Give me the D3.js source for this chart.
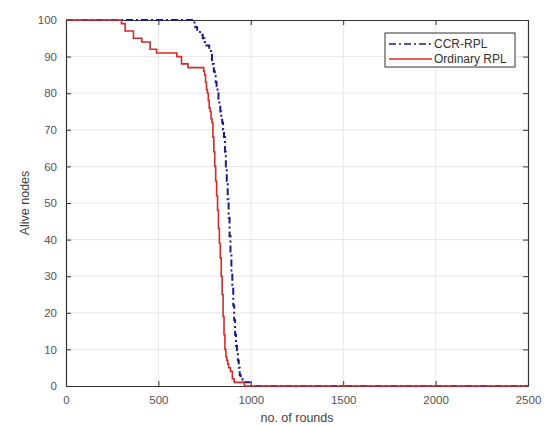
<!DOCTYPE html>
<html>
<head>
<meta charset="utf-8">
<script src="https://cdn.jsdelivr.net/npm/d3@7"></script>
<style>
  body { margin: 0; background: #fff; }
  text { font-family: "Liberation Sans", Arial, sans-serif; }
</style>
</head>
<body>
<div id="chart"></div>
<script>
// data
const ccrRounds = [0, 689, 695, 700, 710, 725, 740, 750, 760, 775, 785, 790, 795, 800, 805, 810, 815, 820, 825, 830, 835, 840, 845, 850, 855, 860, 865, 870, 875, 880, 885, 890, 895, 900, 905, 910, 915, 920, 925, 930, 935, 940, 945, 955, 1000, 2500];
const ccrAlive = [100, 100, 99, 98, 97, 96, 95, 94, 93, 92, 91, 89, 88, 86, 85, 83, 82, 80, 78, 77, 75, 73, 72, 70, 68, 64, 60, 56, 51, 46, 41, 36, 31, 27, 22, 18, 14, 11, 9, 7, 5, 3, 2, 1, 0, 0];

const ordRounds = [0, 300, 320, 365, 410, 455, 490, 600, 625, 660, 740, 745, 750, 755, 760, 765, 770, 775, 780, 785, 790, 795, 800, 805, 810, 815, 820, 825, 830, 835, 840, 845, 850, 855, 860, 865, 870, 875, 880, 890, 900, 910, 965, 2500];
const ordAlive = [100, 99, 97, 95, 94, 92, 91, 90, 88, 87, 87, 86, 85, 83, 81, 80, 78, 76, 75, 73, 72, 68, 64, 60, 56, 52, 48, 43, 39, 35, 30, 25, 19, 14, 10, 8, 7, 6, 5, 4, 2, 1, 0, 0];

const xTicks = [0, 500, 1000, 1500, 2000, 2500];
const yTicks = [0, 10, 20, 30, 40, 50, 60, 70, 80, 90, 100];

const seriesNames = ["CCR-RPL", "Ordinary RPL"];

// set the dimensions and margins of the graph
const margin = { top: 20, right: 18, bottom: 40, left: 66 },
  width = 546 - margin.left - margin.right,
  height = 426 - margin.top - margin.bottom;

const svg = d3
  .select("#chart")
  .append("svg")
  .attr("width", width + margin.left + margin.right)
  .attr("height", height + margin.top + margin.bottom)
  .append("g")
  .attr("transform", `translate(${margin.left},${margin.top})`);

const x = d3.scaleLinear().domain([0, 2500]).range([0, width]);
const y = d3.scaleLinear().domain([0, 100]).range([height, 0]);

// grid
svg
  .append("g")
  .selectAll("line")
  .data(xTicks.slice(1, -1))
  .join("line")
  .attr("x1", (d) => x(d))
  .attr("x2", (d) => x(d))
  .attr("y1", 0)
  .attr("y2", height)
  .attr("stroke", "#e6e6e6");
svg
  .append("g")
  .selectAll("line")
  .data(yTicks.slice(1, -1))
  .join("line")
  .attr("x1", 0)
  .attr("x2", width)
  .attr("y1", (d) => y(d))
  .attr("y2", (d) => y(d))
  .attr("stroke", "#e6e6e6");

// axes, ticks pointing inward
const fmt = d3.format("d");
svg
  .append("g")
  .attr("transform", `translate(0, ${height})`)
  .call(d3.axisBottom(x).tickValues(xTicks).tickFormat(fmt).tickSizeInner(-5).tickSizeOuter(0).tickPadding(10));
svg
  .append("g")
  .call(d3.axisLeft(y).tickValues(yTicks).tickFormat(fmt).tickSizeInner(-5).tickSizeOuter(0).tickPadding(9));
svg
  .append("g")
  .call(d3.axisTop(x).tickValues(xTicks).tickSizeInner(-5).tickSizeOuter(0).tickFormat(""));
svg
  .append("g")
  .attr("transform", `translate(${width}, 0)`)
  .call(d3.axisRight(y).tickValues(yTicks).tickSizeInner(-5).tickSizeOuter(0).tickFormat(""));

svg.selectAll(".domain").attr("stroke", "#333").attr("stroke-width", 1.2);
svg.selectAll(".tick line").attr("stroke", "#333");
svg.selectAll(".tick text").attr("fill", "#555").attr("font-size", 11.5);

svg
  .append("text")
  .attr("text-anchor", "middle")
  .attr("x", width / 2)
  .attr("y", height + 36)
  .attr("font-size", 12.5)
  .attr("fill", "#444")
  .text("no. of rounds");

svg
  .append("text")
  .attr("text-anchor", "middle")
  .attr("transform", "rotate(-90)")
  .attr("x", -height / 2)
  .attr("y", -37)
  .attr("font-size", 12.5)
  .attr("fill", "#444")
  .text("Alive nodes");

const line = d3
  .line()
  .x((d) => x(d[0]))
  .y((d) => y(d[1]))
  .curve(d3.curveStepAfter);

const ccr = d3.zip(ccrRounds, ccrAlive);
const ord = d3.zip(ordRounds, ordAlive);

svg
  .append("path")
  .datum(ccr)
  .attr("fill", "none")
  .attr("stroke", "#1c1c88")
  .attr("stroke-width", 2)
  .attr("stroke-dasharray", "7,3,2,3")
  .attr("d", line);

svg
  .append("path")
  .datum(ord)
  .attr("fill", "none")
  .attr("stroke", "#d42a2a")
  .attr("stroke-width", 1.6)
  .attr("d", line);

// legend
const legend = svg.append("g").attr("transform", `translate(${385 - margin.left}, ${33 - margin.top})`);
legend
  .append("rect")
  .attr("width", 130)
  .attr("height", 34)
  .attr("fill", "#fff")
  .attr("stroke", "#333");
const styles = [
  { color: "#1c1c88", dash: "7,3,2,3", w: 1.5 },
  { color: "#d42a2a", dash: null, w: 1.6 },
];
seriesNames.forEach(function (name, i) {
  const yy = 11 + i * 15;
  legend
    .append("line")
    .attr("x1", 4)
    .attr("x2", 47)
    .attr("y1", yy)
    .attr("y2", yy)
    .attr("stroke", styles[i].color)
    .attr("stroke-width", styles[i].w)
    .attr("stroke-dasharray", styles[i].dash);
  legend
    .append("text")
    .attr("x", 49)
    .attr("y", yy + 4)
    .attr("font-size", 12)
    .attr("fill", "#333")
    .text(name);
});
</script>
</body>
</html>
